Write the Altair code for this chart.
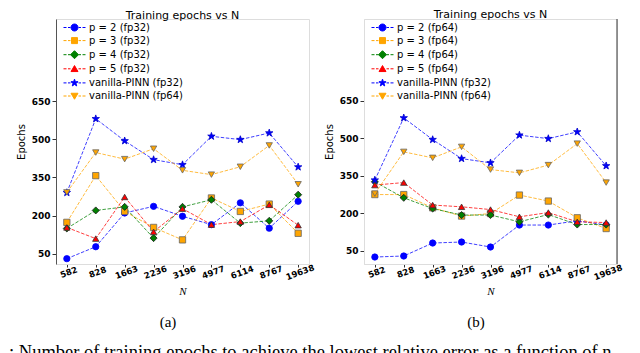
import altair as alt
import pandas as pd

N_labels = ["582", "828", "1663", "2236", "3196", "4977", "6114", "8767", "19638"]

# panel (a): fp32
a_p2 = [30, 77, 210, 236, 197, 164, 250, 150, 256]
a_p3 = [173, 357, 216, 153, 104, 269, 216, 245, 130]
a_p4 = [149, 220, 234, 111, 234, 262, 170, 179, 282]
a_p5 = [153, 109, 273, 136, 227, 164, 176, 242, 162]
a_v32 = [290, 581, 494, 420, 400, 512, 499, 525, 391]
a_v64 = [291, 448, 422, 463, 378, 361, 392, 476, 323]

# panel (b): fp64
b_p2 = [25, 29, 81, 85, 65, 153, 153, 170, 153]
b_p3 = [275, 275, 222, 189, 199, 273, 249, 182, 139]
b_p4 = [326, 262, 219, 193, 193, 166, 195, 155, 155]
b_p5 = [313, 323, 233, 226, 215, 186, 203, 166, 163]
b_v32 = [333, 582, 495, 419, 402, 513, 499, 526, 390]
b_v64 = [279, 446, 422, 466, 375, 362, 393, 479, 323]

series_a = ["p = 2 (fp32)", "p = 3 (fp32)", "p = 4 (fp32)", "p = 5 (fp32)",
            "vanilla-PINN (fp32)", "vanilla-PINN (fp64)"]
series_b = ["p = 2 (fp64)", "p = 3 (fp64)", "p = 4 (fp64)", "p = 5 (fp64)",
            "vanilla-PINN (fp32)", "vanilla-PINN (fp64)"]

# ---- styles ----
colors = ["#0000ff", "#ffa500", "#008000", "#ff0000", "#0000ff", "#ffa500"]
edges = ["#0000ff", "#666666", "#1a1a1a", "#333333", "#0000cc", "#666666"]
STAR = ("M0,-1L0.235,-0.324L0.951,-0.309L0.38,0.124L0.588,0.809L0,0.4"
        "L-0.588,0.809L-0.38,0.124L-0.951,-0.309L-0.235,-0.324Z")
markers = ["circle", "square", "diamond", "triangle-up", STAR, "triangle-down"]
msizes = [40, 40, 50, 40, 60, 40]

DASH = "M-2.2,0H-1.6M-1.3,0H-0.8M0.8,0H1.3M1.6,0H2.2"
leg_paths = [
    DASH + "M0.7,0A0.7,0.7,0,1,1,-0.7,0A0.7,0.7,0,1,1,0.7,0Z",
    DASH + "M-0.6,-0.6H0.6V0.6H-0.6Z",
    DASH + "M0,-0.8L0.8,0L0,0.8L-0.8,0Z",
    DASH + "M0,-0.65L0.7,0.55H-0.7Z",
    DASH + "M0,-0.75L0.176,-0.243L0.713,-0.232L0.285,0.093L0.441,0.607L0,0.3"
           "L-0.441,0.607L-0.285,0.093L-0.713,-0.232L-0.176,-0.243Z",
    DASH + "M-0.7,-0.55H0.7L0,0.65Z",
]

W, H = 253, 245


def make_df(series, values):
    rows = []
    for i, (s, vals) in enumerate(zip(series, values)):
        for n, v in zip(N_labels, vals):
            rows.append({"N": n, "series": s, "epochs": v, "marker": markers[i],
                         "edge": edges[i], "msize": msizes[i], "order": i})
    return pd.DataFrame(rows)


def panel(series, values, ydom, sub, ydomain_color, caption=None, right_spine=False):
    df = make_df(series, values)
    cscale = alt.Scale(domain=series, range=colors)
    x = alt.X("N:O", sort=N_labels, scale=alt.Scale(type="point", padding=0.375),
              axis=alt.Axis(title="N", labelAngle=-20, labelAlign="center",
                            labelBaseline="top", labelFont="DejaVu Sans",
                            labelFontWeight="bold", labelFontSize=8.5, labelColor="black",
                            labelPadding=1, tickSize=3, tickColor="#333",
                            domainColor="#dddddd", titleFont="Liberation Serif",
                            titleFontStyle="italic", titleFontWeight="normal",
                            titleFontSize=11, titlePadding=4, titleColor="black"))
    y = alt.Y("epochs:Q", scale=alt.Scale(domain=ydom, nice=False, zero=False),
              axis=alt.Axis(title="Epochs", values=[50, 200, 350, 500, 650],
                            grid=False, labelFont="DejaVu Sans", labelFontWeight="bold",
                            labelFontSize=9, labelColor="black", labelPadding=2,
                            tickSize=4, tickColor="#333", domainColor=ydomain_color,
                            titleFont="DejaVu Sans", titleFontWeight="normal",
                            titleFontSize=10, titleColor="black", titlePadding=5))
    base = alt.Chart(df)
    leg = alt.Legend(title=None, orient="none", legendX=13, legendY=3, padding=0,
                     labelFont="DejaVu Sans", labelFontSize=10, labelColor="black",
                     symbolSize=100, symbolStrokeWidth=1, labelOffset=9,
                     rowPadding=2.1, symbolOpacity=1)
    legend_layer = base.transform_filter("false").mark_point(
        filled=False, opacity=1, strokeWidth=1).encode(
        x=x, y=y,
        color=alt.Color("series:N", scale=cscale, legend=leg),
        fill=alt.Fill("series:N", scale=cscale, legend=leg),
        shape=alt.Shape("series:N", scale=alt.Scale(domain=series, range=leg_paths),
                        legend=leg))
    lines = base.mark_line(strokeWidth=1, strokeDash=[3.5, 1.6], opacity=0.75).encode(
        x=x, y=y, color=alt.Color("series:N", scale=cscale),
        order=alt.Order("order:Q"))
    pts = base.mark_point(filled=True, opacity=1, strokeWidth=0.8).encode(
        x=x, y=y,
        fill=alt.Fill("series:N", scale=cscale),
        shape=alt.Shape("marker:N", scale=None),
        stroke=alt.Stroke("edge:N", scale=None),
        size=alt.Size("msize:Q", scale=None),
        order=alt.Order("order:Q"))
    one = alt.Data(values=[{"k": 1}])
    sub_txt = alt.Chart(one).mark_text(font="Liberation Serif", fontSize=15,
                                       baseline="middle", align="center",
                                       color="black").encode(
        x=alt.value(112), y=alt.value(303), text=alt.value(sub))
    layers = [legend_layer, lines, pts, sub_txt]
    if right_spine:
        spine = alt.Chart(one).mark_rule(color="#555555", strokeWidth=1.2).encode(
            x=alt.value(W), y=alt.value(0), y2=alt.value(H))
        layers.append(spine)
    if caption:
        cap = alt.Chart(one).mark_text(font="Liberation Serif", fontSize=18.5,
                                       baseline="alphabetic", align="left",
                                       color="black").encode(
            x=alt.value(-47), y=alt.value(339), text=alt.value(caption))
        layers.append(cap)
    return alt.layer(*layers).properties(
        width=W, height=H,
        title=alt.TitleParams("Training epochs vs N", font="DejaVu Sans", fontSize=11,
                              fontWeight="normal", color="black", offset=-2))


pa = panel(series_a, [a_p2, a_p3, a_p4, a_p5, a_v32, a_v64], [9, 974], "(a)", "#555555",
           caption=": Number of training epochs to achieve the lowest relative error as a function of n")
pb = panel(series_b, [b_p2, b_p3, b_p4, b_p5, b_v32, b_v64], [-3, 978], "(b)", "#dddddd",
           right_spine=True)

chart = alt.hconcat(pa, pb, spacing=55, bounds="flush").resolve_scale(
    color="independent", fill="independent", shape="independent"
).resolve_legend(
    color="independent", fill="independent", shape="independent"
).configure(
    padding=0, background="white"
).configure_view(stroke="#dddddd", strokeWidth=1)

chart.save("out.html", embed_options={"renderer": "svg", "actions": False})
